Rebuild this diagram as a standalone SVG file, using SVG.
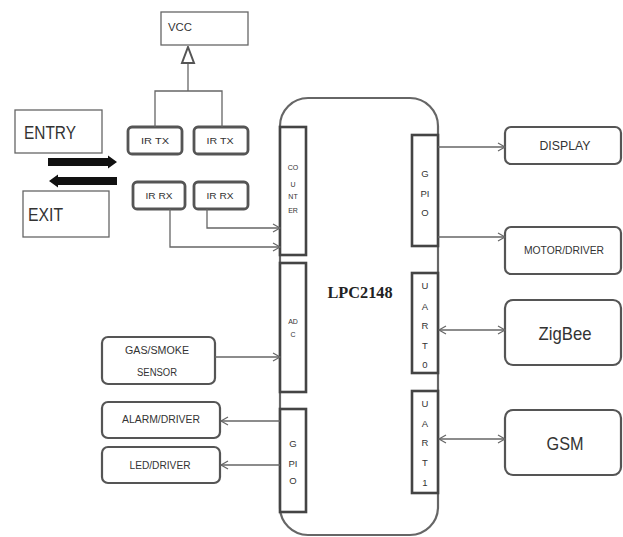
<svg xmlns="http://www.w3.org/2000/svg" width="623" height="537" viewBox="0 0 623 537">
<defs>
<style>
text{font-family:"Liberation Sans","DejaVu Sans",sans-serif;fill:#333;}
.plain{fill:#fff;stroke:#666;stroke-width:1.3;}
.rbox{fill:#fff;stroke:#555;stroke-width:2.2;}
.irbox{fill:#fff;stroke:#555;stroke-width:2.8;}
.port{fill:#fff;stroke:#444;stroke-width:2.6;}
.main{fill:#fff;stroke:#666;stroke-width:2.2;}
.conn{fill:none;stroke:#666;stroke-width:1.3;}
.tiny{font-size:7px;text-anchor:middle;}
.small{font-size:9.5px;text-anchor:middle;}
</style>
<marker id="ah" markerUnits="userSpaceOnUse" markerWidth="10" markerHeight="10" refX="8" refY="5" orient="auto-start-reverse">
<path d="M1,1 L8,5 L1,9" fill="none" stroke="#666" stroke-width="1.2"/>
</marker>
<marker id="tri" markerUnits="userSpaceOnUse" markerWidth="16" markerHeight="18" refX="8" refY="1" orient="0">
<path d="M8,1 L14,17 L2,17 Z" fill="#fff" stroke="#555" stroke-width="2"/>
</marker>
</defs>

<g id="lpc2148">
<path class="main" d="M308,98 H410 A28,28 0 0 1 438,126 V507 A28,28 0 0 1 410,535 H308 A28,28 0 0 1 280,507 V126 A28,28 0 0 1 308,98 Z"/>
<text x="360" y="298" style="font-family:'Liberation Serif',serif;font-size:17px;font-weight:bold;fill:#222" text-anchor="middle" textLength="65" lengthAdjust="spacingAndGlyphs">LPC2148</text>
</g>

<g id="counter">
<rect class="port" x="280" y="127" width="26" height="128"/>
<text class="tiny" x="293" y="170">CO</text>
<text class="tiny" x="293" y="187">U</text>
<text class="tiny" x="293" y="199">NT</text>
<text class="tiny" x="293" y="213">ER</text>
</g>
<g id="adc">
<rect class="port" x="280" y="263" width="26" height="129"/>
<text class="tiny" x="293" y="324">AD</text>
<text class="tiny" x="293" y="337">C</text>
</g>
<g id="gpio-left">
<rect class="port" x="280" y="409" width="26" height="103"/>
<text class="small" x="293" y="447">G</text>
<text class="small" x="293" y="467">PI</text>
<text class="small" x="293" y="484">O</text>
</g>
<g id="gpio-right">
<rect class="port" x="412" y="135" width="26" height="111"/>
<text class="small" x="425" y="177">G</text>
<text class="small" x="425" y="197">PI</text>
<text class="small" x="425" y="216">O</text>
</g>
<g id="uart0">
<rect class="port" x="412" y="273" width="26" height="100"/>
<text class="small" x="425" y="289">U</text>
<text class="small" x="425" y="310">A</text>
<text class="small" x="425" y="329">R</text>
<text class="small" x="425" y="349">T</text>
<text class="small" x="425" y="368">0</text>
</g>
<g id="uart1">
<rect class="port" x="412" y="391" width="26" height="102"/>
<text class="small" x="425" y="407">U</text>
<text class="small" x="425" y="427">A</text>
<text class="small" x="425" y="446">R</text>
<text class="small" x="425" y="466">T</text>
<text class="small" x="425" y="486">1</text>
</g>

<g id="vcc">
<rect class="plain" x="161" y="12" width="87" height="33"/>
<text x="168" y="31" style="font-size:10px" textLength="24" lengthAdjust="spacingAndGlyphs">VCC</text>
</g>
<g id="ir-tx-1">
<rect class="irbox" x="128" y="127" width="54" height="27" rx="4"/>
<text x="155" y="144" class="small" textLength="28" lengthAdjust="spacingAndGlyphs">IR TX</text>
</g>
<g id="ir-tx-2">
<rect class="irbox" x="194" y="127" width="54" height="27" rx="4"/>
<text x="220" y="144" class="small" textLength="27" lengthAdjust="spacingAndGlyphs">IR TX</text>
</g>
<g id="ir-rx-1">
<rect class="irbox" x="133" y="182" width="52" height="27" rx="4"/>
<text x="159" y="199" class="small" textLength="27" lengthAdjust="spacingAndGlyphs">IR RX</text>
</g>
<g id="ir-rx-2">
<rect class="irbox" x="194" y="182" width="54" height="27" rx="4"/>
<text x="220" y="199" class="small" textLength="27" lengthAdjust="spacingAndGlyphs">IR RX</text>
</g>

<g id="entry">
<rect class="plain" x="15" y="110" width="87" height="43"/>
<text x="24" y="139" style="font-size:18px" textLength="52" lengthAdjust="spacingAndGlyphs">ENTRY</text>
</g>
<g id="exit">
<rect class="plain" x="23" y="191" width="86" height="46"/>
<text x="28" y="221" style="font-size:19px" textLength="35" lengthAdjust="spacingAndGlyphs">EXIT</text>
</g>

<g id="display">
<rect class="rbox" x="505" y="127" width="116" height="37" rx="6"/>
<text x="565" y="150" style="font-size:13px" text-anchor="middle" textLength="51" lengthAdjust="spacingAndGlyphs">DISPLAY</text>
</g>
<g id="motor-driver">
<rect class="rbox" x="505" y="227" width="116" height="47" rx="6"/>
<text x="564" y="254" style="font-size:10px" text-anchor="middle" textLength="80" lengthAdjust="spacingAndGlyphs">MOTOR/DRIVER</text>
</g>
<g id="zigbee">
<rect class="rbox" x="505" y="300" width="116" height="65" rx="8"/>
<text x="565" y="340" style="font-size:19px" text-anchor="middle" textLength="53" lengthAdjust="spacingAndGlyphs">ZigBee</text>
</g>
<g id="gsm">
<rect class="rbox" x="505" y="410" width="116" height="65" rx="8"/>
<text x="565" y="450" style="font-size:19px" text-anchor="middle" textLength="37" lengthAdjust="spacingAndGlyphs">GSM</text>
</g>

<g id="gas-smoke-sensor">
<rect class="rbox" x="102" y="337" width="113" height="47" rx="6"/>
<text x="157" y="354" style="font-size:10px" text-anchor="middle" textLength="64" lengthAdjust="spacingAndGlyphs">GAS/SMOKE</text>
<text x="157" y="376" style="font-size:10px" text-anchor="middle" textLength="40" lengthAdjust="spacingAndGlyphs">SENSOR</text>
</g>
<g id="alarm-driver">
<rect class="rbox" x="102" y="402" width="118" height="36" rx="6"/>
<text x="161" y="423" style="font-size:10px" text-anchor="middle" textLength="78" lengthAdjust="spacingAndGlyphs">ALARM/DRIVER</text>
</g>
<g id="led-driver">
<rect class="rbox" x="102" y="447" width="118" height="36" rx="6"/>
<text x="160" y="469" style="font-size:10px" text-anchor="middle" textLength="61" lengthAdjust="spacingAndGlyphs">LED/DRIVER</text>
</g>

<g id="connectors">
<path class="conn" d="M188,91 V47" marker-end="url(#tri)"/>
<path class="conn" d="M155,127 V91 H222 V127"/>
<path class="conn" d="M207,209 V228 H280" marker-end="url(#ah)"/>
<path class="conn" d="M170,209 V247 H280" marker-end="url(#ah)"/>
<path class="conn" d="M438,147 H505" marker-end="url(#ah)"/>
<path class="conn" d="M438,237 H505" marker-end="url(#ah)"/>
<path class="conn" d="M439,330 H505" marker-start="url(#ah)" marker-end="url(#ah)"/>
<path class="conn" d="M439,439 H505" marker-start="url(#ah)" marker-end="url(#ah)"/>
<path class="conn" d="M215,357 H280" marker-end="url(#ah)"/>
<path class="conn" d="M280,421 H221" marker-end="url(#ah)"/>
<path class="conn" d="M280,465 H221" marker-end="url(#ah)"/>
<path d="M48,158 H108 V155.5 L117,162 L108,168.5 V166 H48 Z" fill="#111"/>
<path d="M117,177 H58 V174.5 L49,181 L58,187.5 V185 H117 Z" fill="#111"/>
</g>
</svg>
